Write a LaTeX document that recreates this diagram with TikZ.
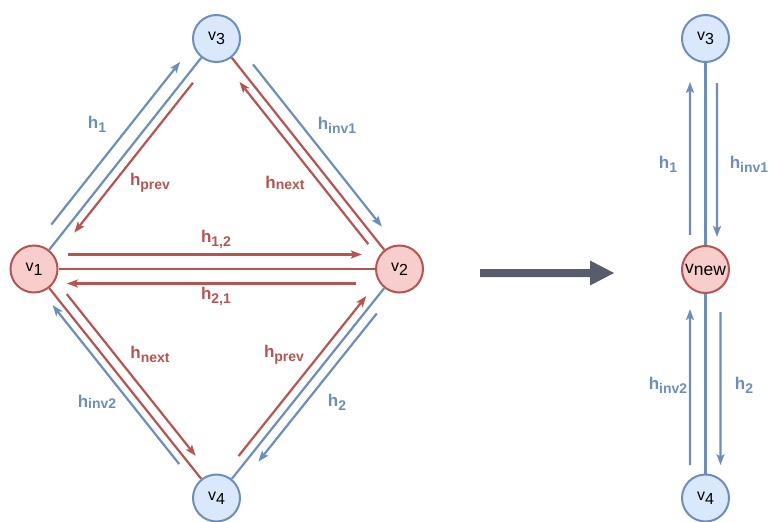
\documentclass[tikz,border=0pt]{standalone}
\usepackage{fontspec}
\setmainfont{Liberation Sans}
\usetikzlibrary{calc,arrows.meta}
\definecolor{bstroke}{HTML}{6C8EBF}
\definecolor{bfill}{HTML}{DAE8FC}
\definecolor{rstroke}{HTML}{B85450}
\definecolor{rfill}{HTML}{F8CECC}
\definecolor{bigarrow}{HTML}{585D6B}
\newcommand{\parr}[7]{\draw[#1] ($(#2)!#4!(#3)!#6!#7:(#3)$) -- ($(#2)!#5!(#3)!#6!#7:(#3)$);}
\newcommand{\sbx}[2]{\raisebox{#1}{\fontsize{14}{14}\selectfont #2}}
\newcommand{\nsb}[1]{\raisebox{-4pt}{#1}}
\begin{document}
\begin{tikzpicture}[x=1pt,y=-1pt,
  vb/.style={circle,draw=bstroke,fill=bfill,line width=2pt,minimum size=47pt,inner sep=0pt,font=\fontsize{16}{16}\selectfont},
  vr/.style={vb,draw=rstroke,fill=rfill},
  bl/.style={draw=bstroke,line width=2.2pt},
  rl/.style={draw=rstroke,line width=2.2pt},
  tip/.style={-{Stealth[length=11pt,width=8pt,inset=2.5pt]}},
  ba/.style={bl,tip},
  ra/.style={rl,tip},
  lb/.style={text=bstroke,font=\bfseries\fontsize{17}{17}\selectfont,inner sep=0pt},
  lr/.style={lb,text=rstroke}]
\useasboundingbox (0,0) rectangle (771,522);

% left graph nodes
\node[vb] (v3) at (216.5,38.5) {v\nsb{3}};
\node[vr] (v1) at (34,269) {v\nsb{1}};
\node[vr] (v2) at (399.5,269) {v\nsb{2}};
\node[vb] (v4) at (216.5,498) {v\nsb{4}};

% central lines
\draw[bl] (v1) -- (v3);
\draw[rl] (v3) -- (v2);
\draw[rl] (v1) -- (v2);
\draw[rl] (v1) -- (v4);
\draw[bl] (v4) -- (v2);

% offset arrows
\parr{ba}{v1}{v3}{0.155}{0.861}{14pt}{90}
\parr{ra}{v1}{v3}{0.832}{0.182}{9pt}{-90}
\parr{ba}{v3}{v2}{0.146}{0.850}{12.5pt}{90}
\parr{ra}{v3}{v2}{0.868}{0.164}{9pt}{-90}
\parr{ra}{v1}{v2}{0.093}{0.897}{14.5pt}{90}
\parr{ra}{v1}{v2}{0.881}{0.090}{14.5pt}{-90}
\parr{ra}{v1}{v4}{0.137}{0.843}{10pt}{90}
\parr{ba}{v1}{v4}{0.830}{0.136}{8pt}{-90}
\parr{ra}{v4}{v2}{0.159}{0.857}{9pt}{90}
\parr{ba}{v4}{v2}{0.833}{0.186}{10pt}{-90}

% labels left
\node[lb] (l1) at (97,124) {h\sbx{-4pt}{1}};
\node[lr] (l2) at (150,183) {h\sbx{-4pt}{prev}};
\node[lr] (l3) at (216,239) {h\sbx{-4pt}{1,2}};
\node[lb] (l4) at (337,125) {h\sbx{-4pt}{inv1}};
\node[lr] (l5) at (285,183) {h\sbx{-0.5pt}{next}};
\node[lr] (l6) at (216,296) {h\sbx{-4pt}{2,1}};
\node[lr] (l7) at (150,354) {h\sbx{-4pt}{next}};
\node[lr] (l8) at (284,355) {h\sbx{-4pt}{prev}};
\node[lb] (l9) at (97,402) {h\sbx{-0.5pt}{inv2}};
\node[lb] (l10) at (337,402) {h\sbx{-4pt}{2}};

% big arrow
\fill[bigarrow] (480,269) -- (590,269) -- (590,260.5) -- (614,273) -- (590,285.5) -- (590,277) -- (480,277) -- cycle;

% right graph
\node[vb] (r3) at (705.5,38.5) {v\nsb{3}};
\node[vr,font=\fontsize{17.5}{17.5}\selectfont] (rn) at (705.5,269.5) {v\raisebox{-2pt}{new}};
\node[vb] (r4) at (705.5,498) {v\nsb{4}};
\draw[bl] (r3) -- (rn);
\draw[bl] (rn) -- (r4);
\parr{ba}{r3}{rn}{0.85}{0.188}{15.5pt}{-90}
\parr{ba}{r3}{rn}{0.193}{0.859}{11.5pt}{90}
\parr{ba}{rn}{r4}{0.856}{0.173}{15.5pt}{-90}
\parr{ba}{rn}{r4}{0.186}{0.856}{15pt}{90}
\node[lb] (m1) at (668,164) {h\sbx{-4pt}{1}};
\node[lb] (m2) at (749,164) {h\sbx{-4pt}{inv1}};
\node[lb] (m3) at (668,385) {h\sbx{-4pt}{inv2}};
\node[lb] (m4) at (744,385) {h\sbx{-4pt}{2}};
\end{tikzpicture}
\end{document}
